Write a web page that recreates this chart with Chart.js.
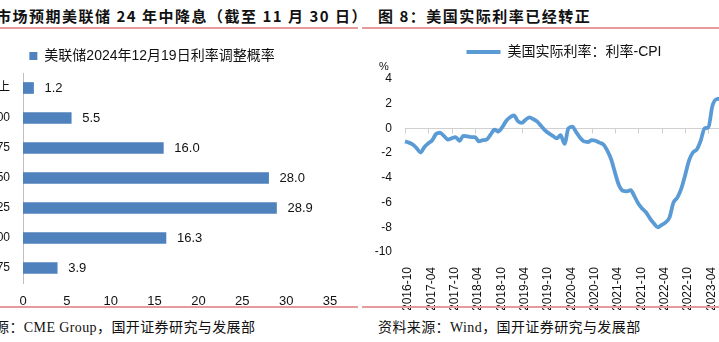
<!DOCTYPE html>
<html>
<head>
<meta charset="utf-8">
<script src="https://cdn.jsdelivr.net/npm/chart.js@4.4.0/dist/chart.umd.min.js"></script>
<style>
html, body { margin: 0; padding: 0; width: 719px; height: 342px; overflow: hidden; background: #fff; position: relative; }
.title { position: absolute; top: 5px; font: bold 15px "Noto Sans CJK SC", sans-serif; letter-spacing: 1.5px; white-space: nowrap; color: #111; }
.rule { position: absolute; height: 2px; background: #e69a9c; }
.src { position: absolute; top: 316px; font: 14px "Liberation Serif", "Noto Sans CJK SC", serif; letter-spacing: 0.4px; white-space: nowrap; color: #111; }
.unit { position: absolute; left: 379px; top: 60px; font: 11px "Liberation Sans", sans-serif; color: #111; }
#left { position: absolute; left: -60px; top: 35px; }
#right { position: absolute; left: 360px; top: 35px; }
</style>
</head>
<body>
<div class="title" style="left:-4px">市场预期美联储 24 年中降息（截至 11 月 30 日）</div>
<div class="title" style="left:378px">图 8：美国实际利率已经转正</div>
<div class="rule" style="left:0;width:358px;top:27px"></div>
<div class="rule" style="left:362px;width:357px;top:27px"></div>
<canvas id="left" width="420" height="275"></canvas>
<canvas id="right" width="370" height="275"></canvas>
<div class="unit">%</div>
<div class="rule" style="left:0;width:358px;top:306px"></div>
<div class="rule" style="left:362px;width:357px;top:306px"></div>
<div class="src" style="left:-5px">源：CME Group，国开证券研究与发展部</div>
<div class="src" style="left:378px">资料来源：Wind，国开证券研究与发展部</div>

<script>
// left: rate buckets for the Dec 19, 2024 FOMC meeting
const rateBuckets = ['500以上', '475-500', '450-475', '425-450', '400-425', '375-400', '350-375'];
const probabilities = [1.2, 5.5, 16.0, 28.0, 28.9, 16.3, 3.9];
const probTicks = [0, 5, 10, 15, 20, 25, 30, 35];

// right: monthly real rate (policy rate minus CPI)
const months = [
  '2016-10', '2016-11', '2016-12',
  '2017-01', '2017-02', '2017-03', '2017-04', '2017-05', '2017-06', '2017-07', '2017-08', '2017-09', '2017-10', '2017-11', '2017-12',
  '2018-01', '2018-02', '2018-03', '2018-04', '2018-05', '2018-06', '2018-07', '2018-08', '2018-09', '2018-10', '2018-11', '2018-12',
  '2019-01', '2019-02', '2019-03', '2019-04', '2019-05', '2019-06', '2019-07', '2019-08', '2019-09', '2019-10', '2019-11', '2019-12',
  '2020-01', '2020-02', '2020-03', '2020-04', '2020-05', '2020-06', '2020-07', '2020-08', '2020-09', '2020-10', '2020-11', '2020-12',
  '2021-01', '2021-02', '2021-03', '2021-04', '2021-05', '2021-06', '2021-07', '2021-08', '2021-09', '2021-10', '2021-11', '2021-12',
  '2022-01', '2022-02', '2022-03', '2022-04', '2022-05', '2022-06', '2022-07', '2022-08', '2022-09', '2022-10', '2022-11', '2022-12',
  '2023-01', '2023-02', '2023-03', '2023-04', '2023-05', '2023-06', '2023-07', '2023-08'
];
const realRate = [
  -1.05, -1.15, -1.3,
  -1.6, -1.95, -1.5, -1.2, -0.95, -0.45, -0.35, -0.6, -0.9, -0.8, -0.7, -1.0,
  -0.6, -0.65, -0.7, -0.7, -1.05, -0.95, -0.9, -0.5, -0.1, -0.25, 0.1, 0.6,
  0.9, 1.05, 0.6, 0.45, 0.7, 0.9, 0.75, 0.55, 0.2, -0.15, -0.4, -0.6,
  -0.8, -0.55, -1.25, 0.0, 0.15, -0.3, -0.75, -1.05, -1.1, -0.95, -1.0, -1.15,
  -1.3, -1.8, -2.5, -3.6, -4.6, -5.05, -5.1, -5.0, -5.5, -6.1, -6.5, -6.8,
  -7.3, -7.7, -8.0, -7.8, -7.6, -7.2, -6.0, -5.6, -4.9, -3.8, -2.6, -1.95,
  -1.7, -1.0, 0.0, 0.1, 1.8, 2.35, 2.4, 2.3
];
const rateTicks = [4, 2, 0, -2, -4, -6, -8, -10];

Chart.defaults.font.family = '"Liberation Sans", "Noto Sans CJK SC", sans-serif';
Chart.defaults.color = '#111';
Chart.defaults.animation = false;

// legend with a fixed band height, nudged by dx/dy when drawn
function fixedLegend(height, dx, dy) {
  return {
    id: 'fixedLegend',
    afterInit(chart) {
      const legend = chart.legend;
      const fit = legend.fit;
      const draw = legend.draw;
      legend.fit = function () { fit.call(this); this.height = height; };
      legend.draw = function () {
        this.ctx.save();
        this.ctx.translate(dx, dy);
        draw.call(this);
        this.ctx.restore();
      };
    }
  };
}

// value labels to the right of each bar
const barValues = {
  id: 'barValues',
  afterDatasetsDraw(chart) {
    const ctx = chart.ctx;
    const meta = chart.getDatasetMeta(0);
    ctx.save();
    ctx.font = '13px "Liberation Sans"';
    ctx.fillStyle = '#111';
    ctx.textBaseline = 'middle';
    meta.data.forEach((bar, i) => {
      ctx.fillText(probabilities[i].toFixed(1), bar.x + 11, bar.y);
    });
    ctx.restore();
  }
};

// horizontal axis line at zero with half-year tick marks
const zeroAxis = {
  id: 'zeroAxis',
  beforeDatasetsDraw(chart) {
    const {ctx, chartArea, scales: {x, y}} = chart;
    const y0 = Math.round(y.getPixelForValue(0)) + 0.5;
    ctx.save();
    ctx.strokeStyle = '#d0d0d0';
    ctx.lineWidth = 1;
    ctx.beginPath();
    ctx.moveTo(chartArea.left, y0);
    ctx.lineTo(chartArea.right, y0);
    months.forEach((m, i) => {
      if (i % 6 === 0) {
        const px = Math.round(x.getPixelForValue(i)) + 0.5;
        ctx.moveTo(px, y0);
        ctx.lineTo(px, y0 + 5);
      }
    });
    ctx.stroke();
    ctx.restore();
  }
};

new Chart(document.getElementById('left'), {
  type: 'bar',
  data: {
    labels: rateBuckets,
    datasets: [{
      label: '美联储2024年12月19日利率调整概率',
      data: probabilities,
      backgroundColor: '#4f81bd',
      barThickness: 11
    }]
  },
  options: {
    indexAxis: 'y',
    responsive: false,
    layout: { padding: { top: 0, right: 30, bottom: 0, left: 0 } },
    plugins: {
      legend: {
        labels: { boxWidth: 8, boxHeight: 8, font: { size: 14 }, color: '#111', padding: 10 }
      },
      tooltip: { enabled: false }
    },
    scales: {
      x: {
        min: 0, max: 35,
        grid: { display: false },
        border: { display: false },
        afterBuildTicks: s => { s.ticks = probTicks.map(v => ({ value: v })); },
        afterFit: s => { s.height = 27; },
        ticks: { font: { size: 13 }, color: '#111', padding: 3 }
      },
      y: {
        grid: { display: false, drawTicks: false },
        border: { display: true, color: '#bfbfbf' },
        afterFit: s => { s.width = 83; },
        ticks: { font: { size: 12 }, color: '#111', padding: 13 }
      }
    }
  },
  plugins: [barValues, fixedLegend(38, 17, 4)]
});

new Chart(document.getElementById('right'), {
  type: 'line',
  data: {
    labels: months,
    datasets: [{
      label: '美国实际利率：利率-CPI',
      data: realRate,
      borderColor: '#5b9bd5',
      backgroundColor: '#5b9bd5',
      borderWidth: 3.8,
      pointRadius: 0,
      pointStyle: 'line',
      tension: 0.4,
      cubicInterpolationMode: 'monotone'
    }]
  },
  options: {
    responsive: false,
    layout: { padding: { top: 0, right: 6, bottom: 0, left: 0 } },
    plugins: {
      legend: {
        labels: { usePointStyle: true, pointStyle: 'line', pointStyleWidth: 34, font: { size: 14 }, color: '#111', padding: 10 }
      },
      tooltip: { enabled: false }
    },
    scales: {
      x: {
        grid: { display: false },
        border: { display: false },
        afterFit: s => { s.height = 58; s.paddingLeft = 0; s.paddingRight = 0; },
        ticks: {
          autoSkip: false, minRotation: 90, maxRotation: 90, padding: 7, labelOffset: 3,
          font: { size: 12 }, color: '#111',
          callback: (v, i) => (i % 6 === 0 ? months[i] : '')
        }
      },
      y: {
        min: -10, max: 4,
        grid: { display: false, drawTicks: false },
        border: { display: false },
        afterBuildTicks: s => { s.ticks = rateTicks.map(v => ({ value: v })); },
        afterFit: s => { s.width = 45; s.paddingTop = 0; s.paddingBottom = 0; },
        ticks: { font: { size: 12 }, color: '#111', padding: 13 }
      }
    }
  },
  plugins: [zeroAxis, fixedLegend(44, 22, 0)]
});
</script>
</body>
</html>
